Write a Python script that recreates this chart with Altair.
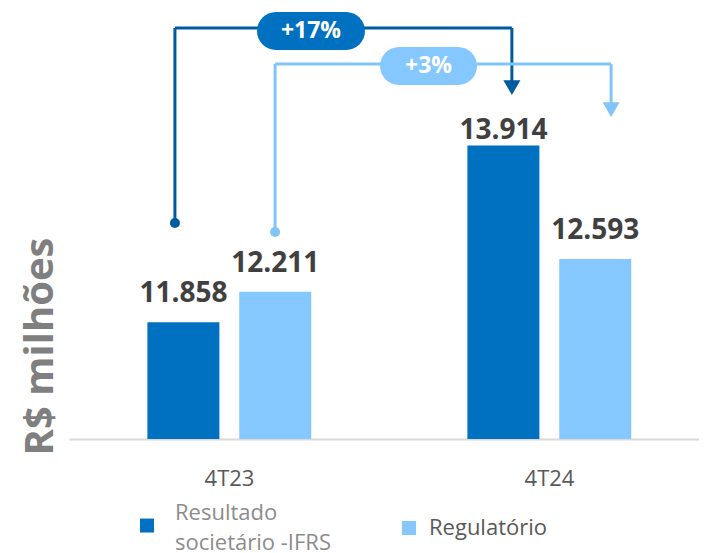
import altair as alt
import pandas as pd

# ---------------- data ----------------
periodos = ["4T23", "4T24"]
series = ["Resultado societário -IFRS", "Regulatório"]
ifrs = [11858, 13914]
regulatorio = [12211, 12593]

# ---------------- styles / layout (code, not data) ----------------
FONT = "Open Sans"
COR_BARRA = ["#0070C0", "#85C8FF"]
COR_LINHA = ["#005A9E", "#80C4F8"]
Y_MIN, Y_MAX = 10500, 15500
BAR_W = 0.225
BAR_OFF = [-0.255, 0.032]

valores = [ifrs, regulatorio]
rows = []
for j, s in enumerate(series):
    for i, p in enumerate(periodos):
        x0 = i + BAR_OFF[j]
        rows.append({"periodo": p, "serie": s, "valor": valores[j][i],
                     "x0": x0, "x1": x0 + BAR_W, "xc": x0 + BAR_W / 2})
bars_df = pd.DataFrame(rows)
vmax = max(ifrs + regulatorio)

xscale = alt.Scale(domain=[-0.5, 1.46875], nice=False, zero=False)
yscale = alt.Scale(domain=[Y_MIN, Y_MAX], nice=False, zero=False)

label_expr = f"datum.value == 0 ? '{periodos[0]}' : '{periodos[1]}'"
xaxis = alt.Axis(values=[0, 1], labelExpr=label_expr, title=None, grid=False,
                 ticks=False, domainColor="#d9d9d9", domainWidth=2,
                 labelFont=FONT, labelFontSize=22, labelColor="#595959",
                 labelPadding=29)
yaxis = alt.Axis(title="R$ milhões", labels=False, ticks=False, domain=False,
                 grid=False, titleFont=FONT, titleFontSize=40,
                 titleFontWeight="bold", titleColor="#7f7f7f", titleAngle=270,
                 titleAlign="center", titleBaseline="alphabetic",
                 titleX=-17, titleY=337)


def X(field):
    return alt.X(field, scale=xscale, axis=xaxis)


def Y(field):
    return alt.Y(field, scale=yscale, axis=yaxis)


sym_shift = "M-2.14,0.79L-0.14,0.79L-0.14,2.79L-2.14,2.79Z"
legend = alt.Legend(
    orient="none", legendX=75, legendY=493, direction="horizontal", title=None,
    symbolType={"expr": f"datum.value == '{series[0]}' ? '{sym_shift}' : 'square'"},
    symbolSize=196, symbolStrokeWidth=0,
    labelFont=FONT, labelFontSize=22,
    labelColor={"expr": f"datum.value == '{series[0]}' ? '#8c8c8c' : '#595959'"},
    labelOffset=9, labelLimit=300, columnPadding=67, padding=0,
    labelExpr=f"datum.label == '{series[0]}' ? ['Resultado', 'societário -IFRS'] : datum.label",
)

base = alt.Chart(bars_df)

bars = base.mark_bar().encode(
    x=X("x0:Q"),
    x2="x1:Q",
    y=Y("valor:Q"),
    y2=alt.datum(Y_MIN),
    color=alt.Color("serie:N", scale=alt.Scale(domain=series, range=COR_BARRA),
                    legend=legend, sort=series),
)

fmt = "replace(format(datum.valor, ','), ',', '.')"
labels_low = base.transform_filter(alt.datum.valor != vmax).transform_calculate(
    lab=fmt).mark_text(font=FONT, fontSize=28, fontWeight="bold",
                       color="#404040", baseline="alphabetic", dy=-20).encode(
    x=X("xc:Q"), y=Y("valor:Q"), text="lab:N")
labels_high = base.transform_filter(alt.datum.valor == vmax).transform_calculate(
    lab=fmt).mark_text(font=FONT, fontSize=28, fontWeight="bold",
                       color="#404040", baseline="alphabetic", dy=-6).encode(
    x=X("xc:Q"), y=Y("valor:Q"), text="lab:N")

# ---------------- growth brackets ----------------
pct = [f"+{round((v[1] / v[0] - 1) * 100)}%" for v in valores]
geo = [  # bracket and pill geometry in scale units
    dict(xs=-0.169, xe=0.884, yt=15279, yd=13012, yh=14586,
         px0=0.0875, px1=0.425, py0=15023, py1=15465),
    dict(xs=0.144, xe=1.194, yt=14860, yd=12907, yh=14330,
         px0=0.472, px1=0.775, py0=14616, py1=15058),
]

layers = [bars, labels_low, labels_high]
for j in range(2):
    g = geo[j]
    seg = pd.DataFrame([
        {"x": g["xs"], "x2": g["xs"], "y": g["yd"], "y2": g["yt"]},
        {"x": g["xs"], "x2": g["xe"], "y": g["yt"], "y2": g["yt"]},
        {"x": g["xe"], "x2": g["xe"], "y": g["yt"], "y2": g["yh"]},
    ])
    layers.append(alt.Chart(seg).mark_rule(color=COR_LINHA[j], strokeWidth=3).encode(
        x=X("x:Q"), x2="x2:Q", y=Y("y:Q"), y2="y2:Q"))
    pt = pd.DataFrame([{"x": g["xs"], "y": g["yd"]}])
    layers.append(alt.Chart(pt).mark_point(shape="circle", filled=True, size=100,
                                           color=COR_LINHA[j], opacity=1).encode(
        x=X("x:Q"), y=Y("y:Q")))
    hd = pd.DataFrame([{"x": g["xe"], "y": g["yh"]}])
    layers.append(alt.Chart(hd).mark_point(shape="triangle-down", filled=True,
                                           size=289, color=COR_LINHA[j],
                                           opacity=1).encode(
        x=X("x:Q"), y=Y("y:Q")))
    pill = pd.DataFrame([{"x": g["px0"], "x2": g["px1"], "y": g["py0"], "y2": g["py1"],
                          "xc": (g["px0"] + g["px1"]) / 2, "yc": (g["py0"] + g["py1"]) / 2,
                          "t": pct[j]}])
    layers.append(alt.Chart(pill).mark_bar(cornerRadius=19, color=COR_BARRA[j]).encode(
        x=X("x:Q"), x2="x2:Q", y=Y("y:Q"), y2="y2:Q"))
    layers.append(alt.Chart(pill).mark_text(font=FONT, fontSize=23, fontWeight="bold",
                                            color="white", baseline="middle").encode(
        x=X("xc:Q"), y=Y("yc:Q"), text="t:N"))

chart = alt.layer(*layers).properties(
    width=630, height=430,
    autosize=alt.AutoSizeParams(type="none"),
    padding={"left": 61, "top": 1, "right": 0, "bottom": 116},
).configure(
    font=FONT, style={"guide-label": {"lineHeight": 30}},
    view=alt.ViewConfig(stroke=None))

chart.save("out.html", embed_options={"renderer": "svg", "actions": False})
